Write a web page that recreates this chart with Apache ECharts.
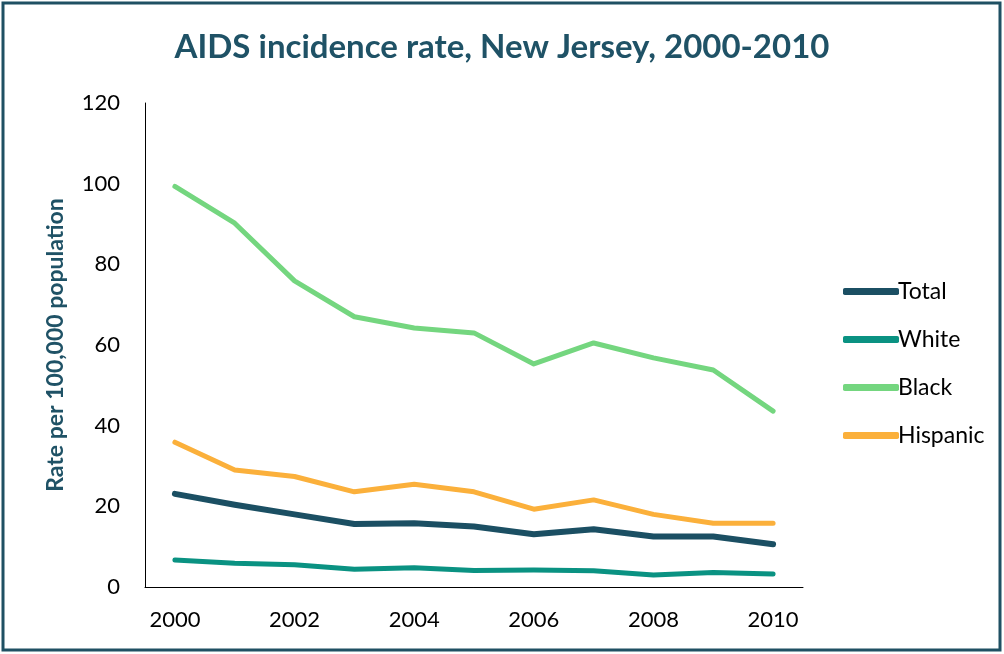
<!DOCTYPE html>
<html>
<head>
<meta charset="utf-8">
<script src="https://cdn.jsdelivr.net/npm/echarts@6/dist/echarts.min.js"></script>
<style>
html,body{margin:0;padding:0;background:#fff;}
#c{width:1004px;height:654px;}
</style>
</head>
<body>
<div id="c"></div>
<script>
const years = ['2000','2001','2002','2003','2004','2005','2006','2007','2008','2009','2010'];
const total =    [23.1, 20.4, 18.0, 15.6, 15.8, 15.0, 13.1, 14.3, 12.5, 12.5, 10.6];
const white =    [6.7, 5.9, 5.5, 4.4, 4.8, 4.1, 4.2, 4.0, 3.0, 3.6, 3.2];
const black =    [99.3, 90.2, 75.9, 67.0, 64.2, 63.0, 55.3, 60.5, 56.8, 53.8, 43.6];
const hispanic = [35.9, 29.0, 27.4, 23.6, 25.5, 23.6, 19.3, 21.6, 18.0, 15.8, 15.8];
const yTicks = [0, 20, 40, 60, 80, 100, 120];

const FONT = 'Lato';
const chart = echarts.init(document.getElementById('c'), null, {renderer: 'canvas'});
const mk = (name, data, color, w) => ({
  name, type: 'line', data, symbol: 'none', smooth: false,
  lineStyle: {color, width: w, cap: 'round', join: 'round'},
  itemStyle: {color}
});
chart.setOption({
  animation: false,
  textStyle: {fontFamily: FONT},
  graphic: [{
    type: 'rect', shape: {x: 3, y: 3, width: 997, height: 647},
    style: {fill: 'none', stroke: '#1f5063', lineWidth: 3}, z: 100
  }],
  title: {
    text: 'AIDS incidence rate, New Jersey, 2000-2010',
    left: 'center', top: 26,
    textStyle: {fontFamily: FONT, fontWeight: 'bold', fontSize: 33, color: '#1f5266'}
  },
  legend: {
    orient: 'vertical', left: 838, top: 275,
    itemWidth: 56, itemHeight: 7, itemGap: 25, icon: 'roundRect',
    textStyle: {fontFamily: FONT, fontSize: 23, color: '#000', padding: [0,0,0,-6]},
    data: ['Total', 'White', 'Black', 'Hispanic']
  },
  grid: {left: 145, right: 201, top: 103, bottom: 67, containLabel: false},
  xAxis: {
    type: 'category', data: years, boundaryGap: true,
    axisLine: {lineStyle: {color: '#000', width: 1}},
    axisTick: {show: false},
    axisLabel: {interval: 1, color: '#000', fontSize: 22, margin: 22, fontFamily: FONT}
  },
  yAxis: {
    type: 'value', min: yTicks[0], max: yTicks[yTicks.length-1], interval: 20,
    name: 'Rate per 100,000 population', nameLocation: 'middle', nameGap: 78,
    nameTextStyle: {fontFamily: FONT, fontWeight: 'bold', fontSize: 23, color: '#1f5266'},
    axisLine: {show: true, lineStyle: {color: '#000', width: 1}},
    axisTick: {show: false},
    splitLine: {show: false},
    axisLabel: {color: '#000', fontSize: 22, margin: 25, fontFamily: FONT}
  },
  series: [
    mk('Total', total, '#1b4f63', 6),
    mk('White', white, '#0a9282', 5),
    mk('Black', black, '#74d67f', 5),
    mk('Hispanic', hispanic, '#fbb03b', 5)
  ]
});
</script>
</body>
</html>
